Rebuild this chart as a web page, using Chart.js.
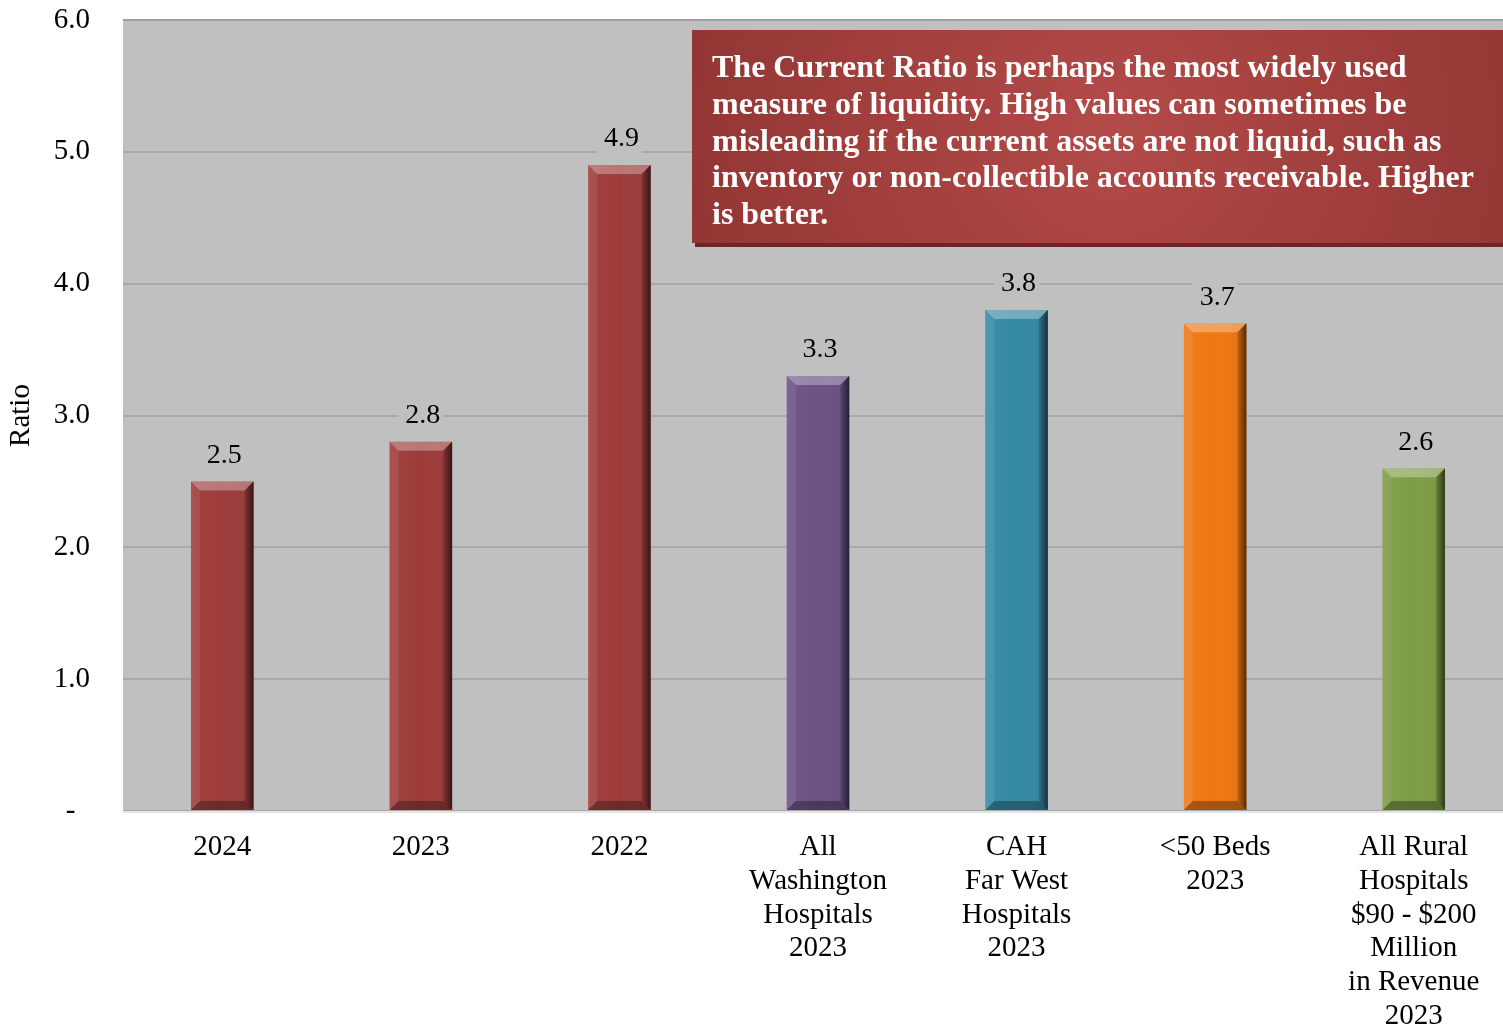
<!DOCTYPE html>
<html>
<head>
<meta charset="utf-8">
<script src="https://cdn.jsdelivr.net/npm/chart.js@4.4.1/dist/chart.umd.min.js"></script>
<style>
    html, body { margin: 0; padding: 0; background: #ffffff; overflow: hidden; }
    #wrap { width: 1503px; height: 1028px; overflow: hidden; }
</style>
</head>
<body>
<div id="wrap"><canvas id="ratioChart" width="1513" height="1028"></canvas></div>
<script>
// Chart values
const categories = [
    ["2024"],
    ["2023"],
    ["2022"],
    ["All", "Washington", "Hospitals", "2023"],
    ["CAH", "Far West", "Hospitals", "2023"],
    ["<50 Beds", "2023"],
    ["All Rural", "Hospitals", "$90 - $200", "Million", "in Revenue", "2023"]
];
const ratios = [2.5, 2.8, 4.9, 3.3, 3.8, 3.7, 2.6];
const barColors = ["#9D3B3A", "#9D3B3A", "#9D3B3A", "#6B5184", "#3489A3", "#EF7612", "#7E9C44"];
const yTicks = [0, 1, 2, 3, 4, 5, 6];
const noteLines = [
    "The Current Ratio is perhaps the most widely used",
    "measure of liquidity. High values can sometimes be",
    "misleading if the current assets are not liquid, such as",
    "inventory or non-collectible accounts receivable. Higher",
    "is better."
];

const SERIF = "'Liberation Serif', 'Times New Roman', serif";
const PLOT_BG = "#C0C0C0";

// Gray plot area background
const plotBackground = {
    id: "plotBackground",
    beforeDraw(chart) {
        const { ctx, chartArea: a } = chart;
        ctx.save();
        ctx.fillStyle = PLOT_BG;
        ctx.fillRect(a.left, a.top, a.right - a.left, a.bottom - a.top);
        ctx.restore();
    },
    afterDraw(chart) {
        const { ctx, chartArea: a } = chart;
        ctx.save();
        ctx.strokeStyle = "#9E9E9E";
        ctx.lineWidth = 2;
        ctx.beginPath();
        ctx.moveTo(a.left, a.top);
        ctx.lineTo(a.right, a.top);
        ctx.stroke();
        ctx.strokeStyle = "#E4E4E4";
        ctx.beginPath();
        ctx.moveTo(a.left, a.bottom + 1);
        ctx.lineTo(a.right, a.bottom + 1);
        ctx.stroke();
        ctx.restore();
    }
};

// Bevel shading on the bars + value labels
const bevelAndLabels = {
    id: "bevelAndLabels",
    afterDatasetsDraw(chart) {
        const ctx = chart.ctx;
        const meta = chart.getDatasetMeta(0);
        meta.data.forEach((bar, i) => {
            const l = bar.x - bar.width / 2, r = bar.x + bar.width / 2;
            const t = bar.y, b = bar.base;
            const s = 9;
            ctx.save();
            // face shading
            const face = ctx.createLinearGradient(l, 0, r, 0);
            face.addColorStop(0, "rgba(255,255,255,0.05)");
            face.addColorStop(0.5, "rgba(255,255,255,0.0)");
            face.addColorStop(1, "rgba(0,0,0,0.08)");
            ctx.fillStyle = face;
            ctx.fillRect(l, t, r - l, b - t);
            // top
            ctx.fillStyle = "rgba(255,255,255,0.3)";
            ctx.beginPath();
            ctx.moveTo(l, t); ctx.lineTo(r, t); ctx.lineTo(r - s, t + s); ctx.lineTo(l + s, t + s);
            ctx.closePath(); ctx.fill();
            // left
            ctx.fillStyle = "rgba(255,255,255,0.07)";
            ctx.beginPath();
            ctx.moveTo(l, t); ctx.lineTo(l + s, t + s); ctx.lineTo(l + s, b - s); ctx.lineTo(l, b);
            ctx.closePath(); ctx.fill();
            // right
            const rg = ctx.createLinearGradient(r - s, 0, r, 0);
            rg.addColorStop(0, "rgba(0,0,0,0.15)");
            rg.addColorStop(1, "rgba(0,0,0,0.6)");
            ctx.fillStyle = rg;
            ctx.beginPath();
            ctx.moveTo(r, t); ctx.lineTo(r - s, t + s); ctx.lineTo(r - s, b - s); ctx.lineTo(r, b);
            ctx.closePath(); ctx.fill();
            // bottom
            ctx.fillStyle = "rgba(0,0,0,0.3)";
            ctx.beginPath();
            ctx.moveTo(l, b); ctx.lineTo(r, b); ctx.lineTo(r - s, b - s); ctx.lineTo(l + s, b - s);
            ctx.closePath(); ctx.fill();

            // value label
            const txt = ratios[i].toFixed(1);
            ctx.font = "28px " + SERIF;
            const w = ctx.measureText(txt).width;
            const cy = t - 26;
            ctx.fillStyle = PLOT_BG;
            ctx.fillRect(bar.x - w / 2 - 5, cy - 16, w + 10, 32);
            ctx.fillStyle = "#000";
            ctx.textAlign = "center";
            ctx.textBaseline = "middle";
            ctx.fillText(txt, bar.x + 2, cy);
            ctx.restore();
        });
    }
};

// Red note box
const noteBox = {
    id: "noteBox",
    afterDraw(chart) {
        const ctx = chart.ctx;
        const x = 692, y = 30, w = 821, h = 213;
        ctx.save();
        ctx.fillStyle = "#6E2524";
        ctx.fillRect(x + 3, y + 4, w, h);
        const g = ctx.createRadialGradient(x + 420, y + h * 0.45, 10, x + 420, y + h * 0.45, 490);
        g.addColorStop(0, "#B24A48");
        g.addColorStop(1, "#8E3331");
        ctx.fillStyle = g;
        ctx.fillRect(x, y, w, h);
        ctx.fillStyle = "#FFFFFF";
        ctx.font = "bold 32px " + SERIF;
        ctx.textAlign = "left";
        ctx.textBaseline = "middle";
        noteLines.forEach((line, i) => {
            ctx.fillText(line, 712, 69 + i * 36.7);
        });
        ctx.restore();
    }
};

new Chart(document.getElementById("ratioChart"), {
    type: "bar",
    data: {
        labels: categories,
        datasets: [{
            label: "Ratio",
            data: ratios,
            backgroundColor: barColors,
            borderWidth: 0,
            categoryPercentage: 1,
            barPercentage: 0.315
        }]
    },
    options: {
        responsive: false,
        animation: false,
        layout: { padding: { top: 20, right: 0, bottom: 0, left: 0 } },
        plugins: {
            legend: { display: false },
            tooltip: { enabled: false }
        },
        scales: {
            x: {
                grid: { display: false },
                border: { display: false },
                ticks: {
                    color: "#000",
                    font: { family: SERIF, size: 29, lineHeight: 1.16 },
                    padding: 12,
                    maxRotation: 0,
                    autoSkip: false
                },
                afterFit(scale) {
                    scale.height = 217;
                    scale.paddingLeft = 0;
                    scale.paddingRight = 0;
                }
            },
            y: {
                min: 0,
                max: 6,
                afterBuildTicks(scale) { scale.ticks = yTicks.map(v => ({ value: v })); },
                grid: { color: "#A9A9A9", lineWidth: 2, drawTicks: false },
                border: { display: false },
                ticks: {
                    color: "#000",
                    font: { family: SERIF, size: 29 },
                    padding: 33,
                    callback: v => v === 0 ? "-\u2007" : v.toFixed(1)
                },
                title: {
                    display: true,
                    text: "Ratio",
                    color: "#000",
                    font: { family: SERIF, size: 29 },
                    padding: { top: 4, bottom: 0 }
                },
                afterFit(scale) {
                    scale.width = 123;
                    scale.paddingTop = 0;
                    scale.paddingBottom = 0;
                }
            }
        }
    },
    plugins: [plotBackground, bevelAndLabels, noteBox]
});
</script>
</body>
</html>
